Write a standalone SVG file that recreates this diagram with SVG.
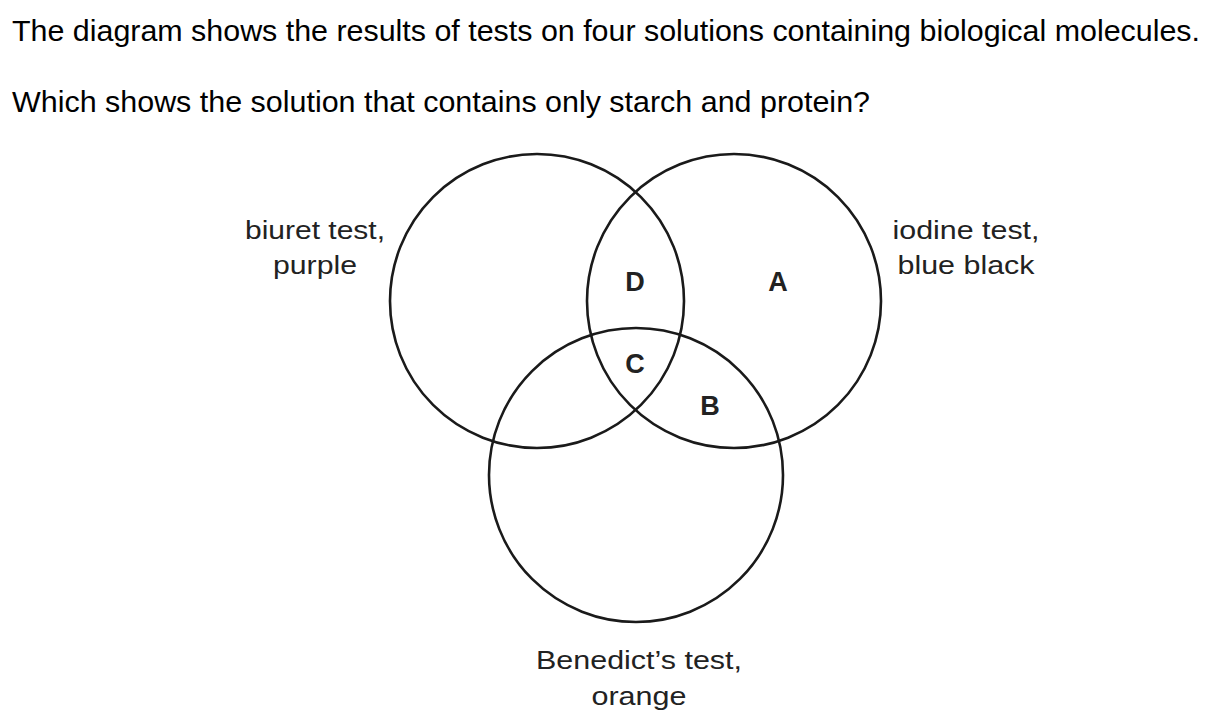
<svg xmlns="http://www.w3.org/2000/svg" width="1220" height="725" viewBox="0 0 1220 725">
<style>
.t{font-family:"Liberation Sans",Arial,sans-serif;fill:#000}
.q{font-size:29px}
.lab{font-size:25px;text-anchor:middle;fill:#222}
.let{font-size:27px;font-weight:bold;text-anchor:middle;fill:#222}
.c{fill:none;stroke:#1a1a1a;stroke-width:2.6}
</style>
<rect width="1220" height="725" fill="#fff"/>
<text class="t q" x="12" y="41" textLength="1188" lengthAdjust="spacingAndGlyphs">The diagram shows the results of tests on four solutions containing biological molecules.</text>
<text class="t q" x="12" y="112" textLength="858" lengthAdjust="spacingAndGlyphs">Which shows the solution that contains only starch and protein?</text>
<g id="circle-biuret"><circle class="c" cx="537" cy="301" r="147"/></g>
<g id="circle-iodine"><circle class="c" cx="734" cy="301" r="147"/></g>
<g id="circle-benedict"><circle class="c" cx="636" cy="475" r="147"/></g>
<g id="label-biuret"><text class="t lab" x="315" y="239" textLength="140" lengthAdjust="spacingAndGlyphs">biuret test,</text><text class="t lab" x="315" y="274" textLength="84" lengthAdjust="spacingAndGlyphs">purple</text></g>
<g id="label-iodine"><text class="t lab" x="966" y="239" textLength="147" lengthAdjust="spacingAndGlyphs">iodine test,</text><text class="t lab" x="966" y="274" textLength="137" lengthAdjust="spacingAndGlyphs">blue black</text></g>
<g id="label-benedict"><text class="t lab" x="639" y="669" textLength="206" lengthAdjust="spacingAndGlyphs">Benedict’s test,</text><text class="t lab" x="639" y="705" textLength="95" lengthAdjust="spacingAndGlyphs">orange</text></g>
<g id="region-D"><text class="t let" x="635" y="291">D</text></g>
<g id="region-A"><text class="t let" x="778" y="291">A</text></g>
<g id="region-C"><text class="t let" x="635" y="373">C</text></g>
<g id="region-B"><text class="t let" x="710" y="415">B</text></g>
</svg>
